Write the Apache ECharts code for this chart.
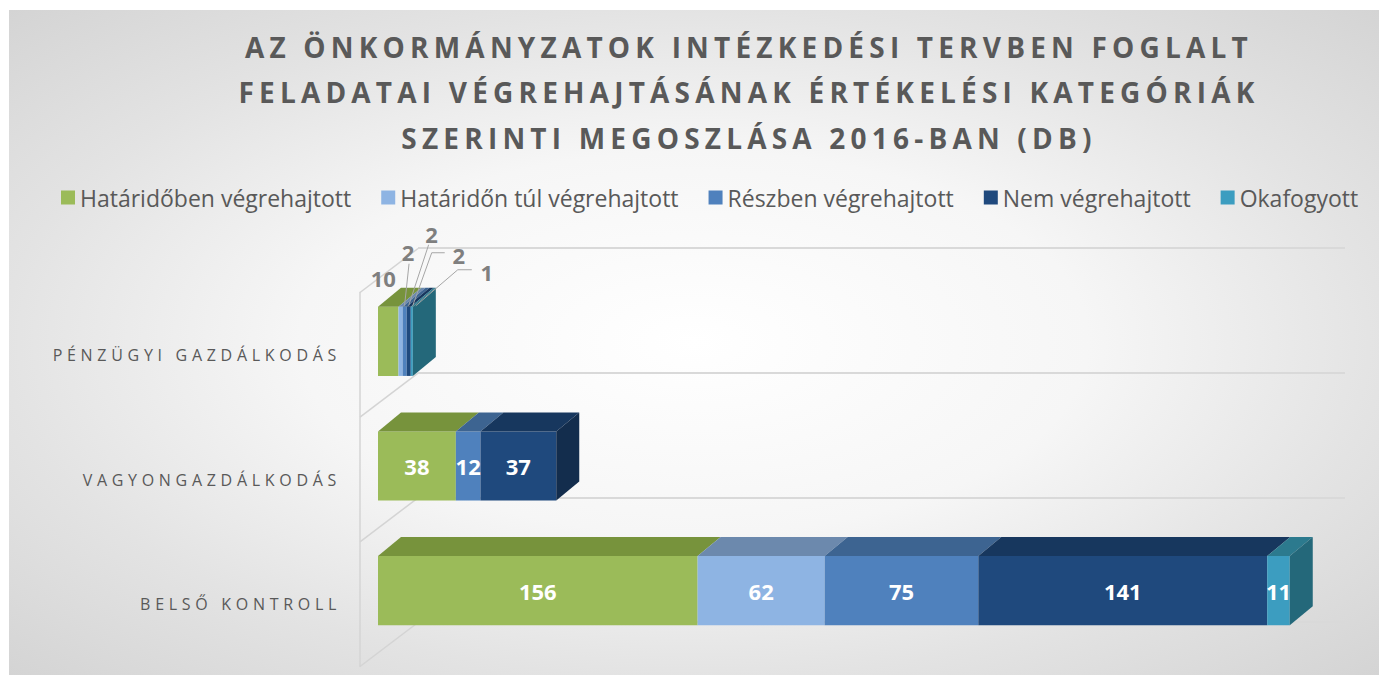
<!DOCTYPE html>
<html>
<head>
<meta charset="utf-8">
<script src="https://cdn.jsdelivr.net/npm/echarts@6/dist/echarts.min.js"></script>
<style>
html,body{margin:0;padding:0;background:#fff;}
#c{width:1379px;height:675px;}
text[style*="Lato"], text[font-family*="Lato"]{letter-spacing:5.2px;}
text[style*="Inter"], text[font-family*="Inter"]{letter-spacing:4.7px;}
</style>
</head>
<body>
<div id="c"></div>
<script>
// ---- data ----
const titleLines = [
  'AZ ÖNKORMÁNYZATOK INTÉZKEDÉSI TERVBEN FOGLALT',
  'FELADATAI VÉGREHAJTÁSÁNAK ÉRTÉKELÉSI KATEGÓRIÁK',
  'SZERINTI MEGOSZLÁSA 2016-BAN (DB)'
];
const categories = ['PÉNZÜGYI GAZDÁLKODÁS', 'VAGYONGAZDÁLKODÁS', 'BELSŐ KONTROLL'];
const seriesNames = ['Határidőben végrehajtott', 'Határidőn túl végrehajtott', 'Részben végrehajtott', 'Nem végrehajtott', 'Okafogyott'];
const hataridoben = [10, 38, 156];
const hataridonTul = [2, 0, 62];
const reszben = [2, 12, 75];
const nemVegrehajtott = [2, 37, 141];
const okafogyott = [1, 0, 11];
const seriesValues = [hataridoben, hataridonTul, reszben, nemVegrehajtott, okafogyott];

// ---- styles ----
const frontColors = ['#9bbb59', '#8eb4e3', '#4f81bd', '#1f497d', '#3c9dc0'];
const topColors   = ['#77933c', '#6c89ad', '#3d6491', '#17375e', '#2c7a8e'];
const sideColors  = ['#6f8a36', '#5f7a9c', '#345782', '#132d4d', '#24687a'];
const DEPTH = [23, -19];          // bar depth projection (px)
const WALL = [58, -44];           // frame depth projection (px)
const BAR_RATIO = 0.555;
const outsideCat = 0;             // category whose labels sit outside with leaders
// label offsets (from top-front centre of segment) and leader points for the outside labels
const outsideLayout = [
  {label: [-5, -29], leader: null},
  {label: [7.5, -55], leader: [[8.5, -43], [4, -1]]},
  {label: [27, -73], leader: [[24, -62], [4, -1]]},
  {label: [50, -52], leader: [[36, -54], [23, -54], [4, -1]]},
  {label: [75, -35], leader: [[60, -37], [46, -37], [4, -1]]}
];

const chart = echarts.init(document.getElementById('c'), null, {renderer: 'svg'});

// stacked starts, last non-zero per category
const lastIdx = categories.map((_, ci) => {
  let l = -1;
  seriesValues.forEach((arr, si) => { if (arr[ci] > 0) l = si; });
  return l;
});
function buildData(si) {
  return categories.map((_, ci) => {
    let start = 0;
    for (let k = 0; k < si; k++) start += seriesValues[k][ci];
    return [ci, start, seriesValues[si][ci], lastIdx[ci] === si ? 1 : 0];
  });
}

function makeRender(si) {
  return function (params, api) {
    const ci = api.value(0), start = api.value(1), val = api.value(2), isLast = api.value(3);
    if (!val) return null;
    const bandH = api.size([0, 1])[1];
    const h = bandH * BAR_RATIO;
    const c0 = api.coord([start, ci]);
    const c1 = api.coord([start + val, ci]);
    const x0 = c0[0], x1 = c1[0];
    const yt = c0[1] - h / 2, yb = yt + h;
    const dx = DEPTH[0], dy = DEPTH[1];
    const children = [
      {type: 'rect', shape: {x: x0, y: yt, width: x1 - x0, height: h}, style: {fill: frontColors[si]}},
      {type: 'polygon', shape: {points: [[x0, yt], [x1, yt], [x1 + dx, yt + dy], [x0 + dx, yt + dy]]}, style: {fill: topColors[si]}}
    ];
    if (isLast) {
      children.push({type: 'polygon', shape: {points: [[x1, yt], [x1 + dx, yt + dy], [x1 + dx, yb + dy], [x1, yb]]}, style: {fill: sideColors[si]}});
    }
    const cx = (x0 + x1) / 2;
    if (ci === outsideCat) {
      const lay = outsideLayout[si];
      if (lay.leader) {
        children.push({type: 'polyline', z2: 90, shape: {points: lay.leader.map(p => [cx + p[0], yt + p[1]])},
          style: {stroke: '#a6a6a6', lineWidth: 1, fill: null}});
      }
      children.push({type: 'text', z2: 100, style: {text: String(val), x: cx + lay.label[0], y: yt + lay.label[1],
        align: 'center', verticalAlign: 'middle', fill: '#7f7f7f', font: 'bold 22px "Open Sans"'}});
    } else {
      children.push({type: 'text', z2: 100, style: {text: String(val), x: cx, y: (yt + yb) / 2,
        align: 'center', verticalAlign: 'middle', fill: '#ffffff', font: 'bold 22px "Open Sans"'}});
    }
    return {type: 'group', children: children};
  };
}

const barSeries = seriesNames.map((name, si) => ({
  name: name,
  type: 'custom',
  xAxisIndex: 0, yAxisIndex: 0,
  renderItem: makeRender(si),
  encode: {x: 2, y: 0},
  itemStyle: {color: frontColors[si]},
  data: buildData(si),
  z: 5
}));

const frameSeries = {
  type: 'custom',
  xAxisIndex: 1, yAxisIndex: 1,
  silent: true,
  z: 1,
  encode: {x: 1, y: 0},
  data: categories.map((_, i) => [i, 0]),
  renderItem: function (params, api) {
    const i = api.value(0);
    const bandH = api.size([0, 1])[1];
    const c = api.coord([0, i]);
    const x = c[0];
    const ys = [c[1] - bandH / 2];
    if (i === categories.length - 1) ys.push(c[1] + bandH / 2);
    return {type: 'group', children: ys.map(y => ({
      type: 'line', shape: {x1: x, y1: y, x2: x + WALL[0], y2: y + WALL[1]},
      style: {stroke: '#d4d4d4', lineWidth: 1.5}
    }))};
  }
};

const option = {
  animation: false,
  backgroundColor: '#ffffff',
  graphic: [
    {type: 'rect', z: -10, silent: true, shape: {x: 9, y: 10, width: 1370, height: 665},
      style: {fill: {type: 'radial', x: 0.5, y: 0.5, r: 0.72, colorStops: [
        {offset: 0, color: '#ffffff'}, {offset: 0.4, color: '#f6f6f6'},
        {offset: 0.7, color: '#e3e3e3'}, {offset: 1, color: '#d3d3d3'}]}}},
    {type: 'text', z: 10, style: {text: titleLines.join('\n'), x: 749, y: 24, align: 'center', verticalAlign: 'top',
      lineHeight: 45.5, fill: '#595959', font: 'bold 28px "Open Sans", Lato'}}
  ],
  legend: {
    left: 56, top: 181,
    itemWidth: 14, itemHeight: 14, itemGap: 30,
    icon: 'rect',
    textStyle: {color: '#595959', fontSize: 23, fontFamily: 'Open Sans'},
    data: seriesNames
  },
  grid: [
    {left: 378, top: 279, width: 922, height: 374},
    {left: 360, top: 292.5, width: 985, height: 374},
    {left: 418, top: 248, width: 927, height: 374}
  ],
  xAxis: [
    {type: 'value', gridIndex: 0, min: 0, max: 450, show: false},
    {type: 'value', gridIndex: 1, min: 0, max: 1, show: false},
    {type: 'value', gridIndex: 2, min: 0, max: 1, show: false}
  ],
  yAxis: [
    {type: 'category', gridIndex: 0, data: categories, inverse: true, show: false},
    {type: 'category', gridIndex: 1, data: categories, inverse: true,
      axisLine: {show: true, lineStyle: {color: '#d4d4d4', width: 1.5}},
      axisTick: {show: false}, splitLine: {show: false},
      axisLabel: {color: '#595959', fontSize: 16, fontFamily: 'Open Sans, Inter', margin: 19}},
    {type: 'category', gridIndex: 2, data: categories, inverse: true,
      axisLine: {show: false}, axisTick: {show: false}, axisLabel: {show: false},
      splitLine: {show: true, lineStyle: {color: '#d9d9d9', width: 2}}}
  ],
  series: [frameSeries].concat(barSeries)
};
chart.setOption(option);
</script>
</body>
</html>
